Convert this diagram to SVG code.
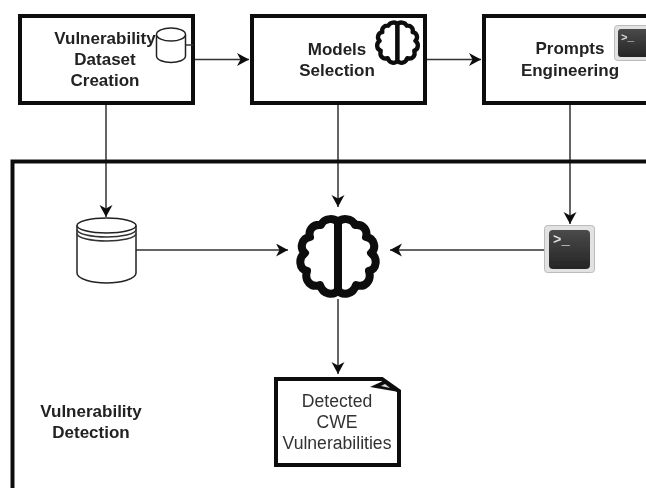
<svg xmlns="http://www.w3.org/2000/svg" width="646" height="488" viewBox="0 0 646 488">
  <style>
    .box { fill: #fff; stroke: #111; stroke-width: 4; }
    .thin { fill: #fff; stroke: #222; stroke-width: 1.5; }
    .conn { fill: none; stroke: #333; stroke-width: 1.5; }
    .b { font: bold 17px "Liberation Sans", Arial, sans-serif; fill: #222; text-anchor: middle; }
    .r { font: 17.6px "Liberation Sans", Arial, sans-serif; fill: #333; text-anchor: middle; }
    .p { font-family: "Liberation Mono", monospace; font-weight: bold; fill: #ddd; }
  </style>
  <defs>
    <filter id="soft" x="-2%" y="-2%" width="104%" height="104%"><feGaussianBlur stdDeviation="0.55"/></filter>
    <marker id="arrow" markerUnits="userSpaceOnUse" markerWidth="13" markerHeight="14" refX="12" refY="6.5" orient="auto">
      <path d="M0,0 L12,6.5 L0,13 L3.5,6.5 Z" fill="#111"/>
    </marker>
    <linearGradient id="term" x1="0" y1="0" x2="0" y2="1"><stop offset="0" stop-color="#4a4a4a"/><stop offset="1" stop-color="#252525"/></linearGradient>
    <g id="brain">
      <path id="lobe" d="M0,-34 C-3,-40 -14,-39 -17,-32 C-25,-33 -30,-27 -28,-20 C-36,-19 -39,-9 -33,-4 C-40,1 -39,12 -31,14 C-34,24 -27,31 -18,28 C-15,38 -4,39 0,33 Z" fill="#fff" stroke="#0c0c0c" stroke-width="8" stroke-linejoin="round"/>
      <use href="#lobe" transform="scale(-1,1)"/>
    </g>
  </defs>
  <rect width="646" height="488" fill="#fff"/>
  <g filter="url(#soft)">
    <g id="connectors">
      <path class="conn" d="M195,59.500H249" marker-end="url(#arrow)"/>
      <path class="conn" d="M427,59.500H481" marker-end="url(#arrow)"/>
      <path class="conn" d="M106,105V217" marker-end="url(#arrow)"/>
      <path class="conn" d="M338,105V207" marker-end="url(#arrow)"/>
      <path class="conn" d="M570,105V224" marker-end="url(#arrow)"/>
      <path class="conn" d="M136,250H288" marker-end="url(#arrow)"/>
      <path class="conn" d="M545,250H390" marker-end="url(#arrow)"/>
      <path class="conn" d="M338,299V374" marker-end="url(#arrow)"/>
    </g>
    <g id="vulnerability-detection">
      <path d="M12.500,488V161.500H646" fill="none" stroke="#111" stroke-width="4"/>
      <text class="b" x="91" y="417">Vulnerability</text>
      <text class="b" x="91" y="438">Detection</text>
    </g>
    <g id="dataset-creation">
      <rect class="box" x="20" y="16" width="173" height="87"/>
      <path class="thin" d="M156.500,35V56C156.500,60 164,62.500 171,62.500C178,62.500 185.500,60 185.500,56V35"/>
      <ellipse class="thin" cx="171" cy="34.500" rx="14.500" ry="6.500"/>
      <path class="conn" d="M186,45H193"/>
      <text class="b" x="105" y="44">Vulnerability</text>
      <text class="b" x="105" y="65">Dataset</text>
      <text class="b" x="105" y="86">Creation</text>
    </g>
    <g id="models-selection">
      <rect class="box" x="252" y="16" width="173" height="87"/>
      <use href="#brain" transform="translate(397.500,43) scale(0.54)"/>
      <text class="b" x="337" y="55">Models</text>
      <text class="b" x="337" y="76">Selection</text>
    </g>
    <g id="prompts-engineering">
      <rect class="box" x="484" y="16" width="180" height="87"/>
      <rect x="614.500" y="25.500" width="40" height="35" rx="3" fill="#e2e2e2" stroke="#bbb"/>
      <rect x="618" y="29" width="40" height="28" rx="3" fill="url(#term)"/>
      <text class="p" x="621" y="41" font-size="11">&gt;_</text>
      <text class="b" x="570" y="54">Prompts</text>
      <text class="b" x="570" y="76">Engineering</text>
    </g>
    <g id="dataset">
      <path class="thin" d="M77,225.500V273C77,279 92,283 106.500,283C121,283 136,279 136,273V225.500"/>
      <ellipse class="thin" cx="106.500" cy="225.500" rx="29.500" ry="7.500"/>
      <path class="conn" d="M77,229.500C77,234 92,237 106.500,237C121,237 136,234 136,229.500"/>
      <path class="conn" d="M77,233.500C77,238 92,241 106.500,241C121,241 136,238 136,233.500"/>
    </g>
    <g id="model">
      <use href="#brain" transform="translate(338,257)"/>
    </g>
    <g id="prompt">
      <rect x="544.500" y="225.500" width="50" height="47" rx="3" fill="#e2e2e2" stroke="#bbb"/>
      <rect x="549" y="230" width="41" height="39" rx="4" fill="url(#term)"/>
      <text class="p" x="553" y="244" font-size="14">&gt;_</text>
    </g>
    <g id="detected-cwe">
      <path class="box" d="M276,379H382L399,391V465H276Z"/>
      <path d="M370,387L383,381L399,392Z" fill="#111"/>
      <path d="M381,386L385,384L390,388Z" fill="#ddd"/>
      <text class="r" x="337" y="407">Detected</text>
      <text class="r" x="337" y="428">CWE</text>
      <text class="r" x="337" y="449">Vulnerabilities</text>
    </g>
  </g>
</svg>
